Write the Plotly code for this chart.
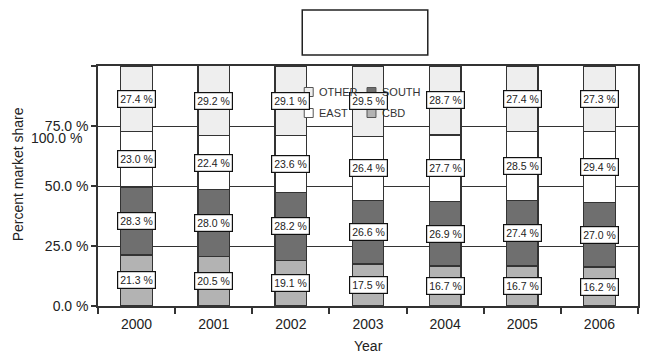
import plotly.graph_objects as go

# Market share by submarket, percent of total
years = ["2000", "2001", "2002", "2003", "2004", "2005", "2006"]
cbd = [21.3, 20.5, 19.1, 17.5, 16.7, 16.7, 16.2]
south = [28.3, 28.0, 28.2, 26.6, 26.9, 27.4, 27.0]
east = [23.0, 22.4, 23.6, 26.4, 27.7, 28.5, 29.4]
other = [27.4, 29.2, 29.1, 29.5, 28.7, 27.4, 27.3]

y_ticks = [0, 25, 50, 75, 100]
y_tick_text = ["0.0 %", "25.0 %", "50.0 %", "75.0 %", ""]

series = [
    ("CBD", cbd, "#b3b3b3"),
    ("SOUTH", south, "#6f6f6f"),
    ("EAST", east, "#ffffff"),
    ("OTHER", other, "#eeeeee"),
]

FONT = "Liberation Sans, Arial, sans-serif"
INK = "#222222"
LINE = "#333333"

W, H = 649, 355
L, R, T, B = 98, 9, 66, 49
PW, PH = W - L - R, H - T - B


def px(x):
    return (x - L) / PW


def py(y):
    return (H - B - y) / PH


fig = go.Figure()
annotations = []
base = [0.0] * len(years)
for name, vals, color in series:
    fig.add_trace(go.Bar(
        x=years, y=vals, name=name, width=0.41,
        marker=dict(color=color, line=dict(color=LINE, width=1.3)),
        showlegend=False,
    ))
    for i, v in enumerate(vals):
        # category index as x position so the label sits on its bar
        annotations.append(dict(
            x=i, y=base[i] + v / 2, xref="x", yref="y",
            text=f"{v:.1f} %", showarrow=False,
            font=dict(family=FONT, size=10.5, color=INK),
            bgcolor="white", bordercolor="#111111", borderwidth=1.2, borderpad=2,
        ))
        base[i] += v

# Misplaced top tick label
annotations.append(dict(x=px(84), y=py(138), xref="paper", yref="paper",
                        text="100.0 %", showarrow=False, xanchor="right", yanchor="middle",
                        font=dict(family=FONT, size=14, color=INK)))
# Axis titles
annotations.append(dict(x=px(18), y=py(174), xref="paper", yref="paper",
                        text="Percent market share", textangle=-90, showarrow=False,
                        xanchor="center", yanchor="middle",
                        font=dict(family=FONT, size=14, color=INK)))
annotations.append(dict(x=px(370), y=py(346), xref="paper", yref="paper",
                        text="Year", showarrow=False, xanchor="center", yanchor="middle",
                        font=dict(family=FONT, size=14, color=INK)))

shapes = [
    # empty title box
    dict(type="rect", xref="paper", yref="paper",
         x0=px(303), x1=px(429), y0=py(55), y1=py(10),
         line=dict(color="#222222", width=1.5), fillcolor="white"),
]

# Legend, two columns
legend_items = [
    ("OTHER", "#eeeeee", 309.5, 92),
    ("SOUTH", "#6f6f6f", 372.5, 92),
    ("EAST", "#ffffff", 309.5, 113),
    ("CBD", "#b3b3b3", 372.5, 113),
]
for name, color, cx, cy in legend_items:
    shapes.append(dict(type="rect", xref="paper", yref="paper",
                       x0=px(cx - 4.5), x1=px(cx + 4.5), y0=py(cy + 4.5), y1=py(cy - 4.5),
                       line=dict(color="#555555", width=1), fillcolor=color))
    annotations.append(dict(x=px(cx + 8.5), y=py(cy), xref="paper", yref="paper",
                            text=name, showarrow=False, xanchor="left", yanchor="middle",
                            font=dict(family=FONT, size=11, color="#333333")))

fig.update_layout(
    width=W, height=H,
    margin=dict(l=L, r=R, t=T, b=B),
    barmode="stack",
    plot_bgcolor="white", paper_bgcolor="white",
    showlegend=False,
    annotations=annotations,
    shapes=shapes,
    font=dict(family=FONT, size=14, color=INK),
)
fig.update_xaxes(
    type="category", categoryorder="array", categoryarray=years,
    range=[-0.5, len(years) - 0.5],
    tickson="boundaries", ticks="outside", ticklen=6,
    tickcolor=LINE, tickwidth=1.5, ticklabelstandoff=4,
    showline=True, linecolor=LINE, linewidth=1.5, mirror=True,
    showgrid=False, tickfont=dict(family=FONT, size=14, color=INK),
)
fig.update_yaxes(
    range=[0, 100], tickvals=y_ticks, ticktext=y_tick_text,
    ticks="outside", ticklen=5, tickcolor=LINE, tickwidth=1.5,
    showline=True, linecolor=LINE, linewidth=1.5, mirror=True,
    showgrid=True, gridcolor=LINE, gridwidth=1.2, zeroline=False,
    tickfont=dict(family=FONT, size=14, color=INK),
)

fig.write_html("out.html")
